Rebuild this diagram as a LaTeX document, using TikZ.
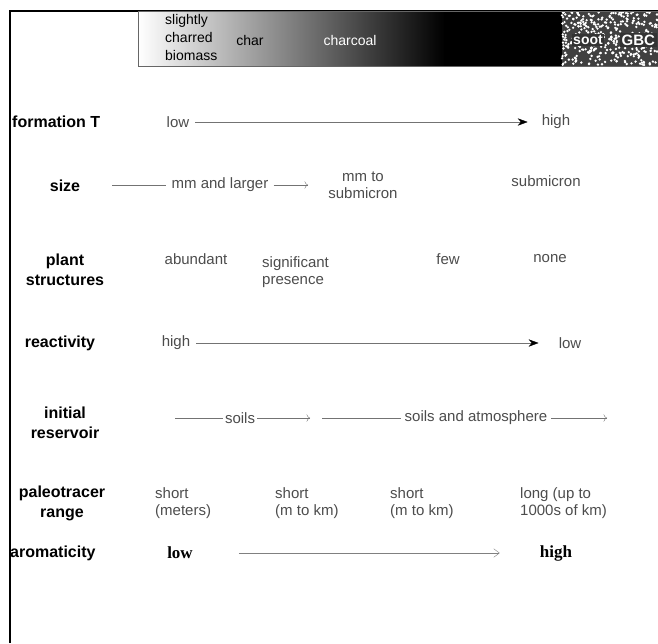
\documentclass[tikz,border=0pt]{standalone}
\usepackage{fontspec}
\setmainfont{Liberation Sans}
\newfontfamily\timesbf{Liberation Serif}
\usetikzlibrary{arrows.meta,positioning}

\begin{document}
\begin{tikzpicture}[
    x=1pt, y=-1pt,
    lbl/.style={font=\fontsize{16}{20}\selectfont\bfseries, align=center, inner sep=0pt},
    val/.style={font=\fontsize{15}{17}\selectfont, text=black!70, align=left, inner sep=0pt},
    bandtxt/.style={font=\fontsize{14}{18}\selectfont, align=left, inner sep=0pt},
    serifval/.style={font=\fontsize{17}{20}\selectfont\timesbf\bfseries, inner sep=0pt},
    arr/.style={draw=black!55, -{Stealth[length=3.5mm, width=2.6mm, black]}},
    tick/.style={draw=black!55, -{To[length=1.2mm]}},
    seg/.style={draw=black!55},
    openarr/.style={draw=black!50, -{Straight Barb[length=2mm, width=3mm]}}
]
\useasboundingbox (0,0) rectangle (658,643);

% frame
\draw[line width=1.2pt] (10,643) -- (10,11) -- (658,11);

% carbon continuum band
\shade[left color=white, middle color=black!50, right color=black] (138,11) rectangle (445,66);
\fill[black] (444,11) rectangle (562,66);
\fill[black!75] (562,11) rectangle (658,66);
\pgfmathsetseed{11}
\foreach \i in {1,...,380} {
    \pgfmathsetmacro\rx{562+96*rnd}
    \pgfmathsetmacro\ry{12+53*rnd}
    \fill[white] (\rx,\ry) circle (1.3pt);
}
\draw[black!60] (138,11) rectangle (658,66);
\node[bandtxt, anchor=north west] (biomass) at (165,14) {slightly\\charred\\biomass};
\node[bandtxt] (char) at (250,40) {char};
\node[bandtxt, text=white] (charcoal) at (350,40) {charcoal};
\node[bandtxt, text=white, fill=black!80, inner sep=1.5pt, font=\fontsize{14}{18}\selectfont\bfseries] (soot) at (588,40) {soot};
\node[bandtxt, text=white, fill=black!80, inner sep=1.5pt, font=\fontsize{15}{18}\selectfont\bfseries, anchor=west] (gbc) at (620,40) {GBC};

% formation T
\node[lbl, anchor=west] (formT) at (12,122) {formation T};
\node[val] (formlow) at (178,122) {low};
\node[val] (formhigh) at (556,122) {high};
\draw[arr, shorten <=6pt, shorten >=14pt] (formlow) -- (formhigh);

% size
\node[lbl] (size) at (65,186) {size};
\node[val] (mmlarge) at (220,185) {mm and larger};
\coordinate (sizeA) at (112,185);
\coordinate (sizeB) at (308,185);
\draw[seg, shorten >=5pt] (sizeA) -- (mmlarge);
\draw[tick, shorten <=5pt] (mmlarge) -- (sizeB);
\node[val, align=center] (mmsub) at (363,185) {mm to\\submicron};
\node[val] (submic) at (546,181) {submicron};

% plant structures
\node[lbl] (plant) at (65,270) {plant\\structures};
\node[val] (abund) at (196,259) {abundant};
\node[val, anchor=west] (signif) at (262,272) {significant\\presence};
\node[val] (few) at (448,259) {few};
\node[val] (none) at (550,259) {none};

% reactivity
\node[lbl] (react) at (60,343) {reactivity};
\node[val] (reacthigh) at (176,343) {high};
\node[val] (reactlow) at (570,343) {low};
\draw[arr, shorten <=6pt, shorten >=20pt] (reacthigh) -- (reactlow);

% initial reservoir
\node[lbl] (reserv) at (65,423) {initial\\reservoir};
\coordinate (resA) at (175,418);
\node[val] (soils) at (240,418) {soils};
\coordinate (resB) at (310,418);
\coordinate (resC) at (322,418);
\node[val] (soilatm) at (476,418) {soils and atmosphere};
\coordinate (resD) at (607,418);
\draw[seg, shorten >=2pt] (resA) -- (soils);
\draw[tick, shorten <=2pt] (soils) -- (resB);
\draw[seg, shorten >=4pt] (resC) -- (soilatm);
\draw[tick, shorten <=4pt] (soilatm) -- (resD);

% paleotracer range
\node[lbl] (paleo) at (62,503) {paleotracer\\range};
\node[val, anchor=west] (rngA) at (155,503) {short\\(meters)};
\node[val, anchor=west] (rngB) at (275,503) {short\\(m to km)};
\node[val, anchor=west] (rngC) at (390,503) {short\\(m to km)};
\node[val, anchor=west] (rngD) at (520,503) {long (up to\\1000s of km)};

% aromaticity
\node[lbl, anchor=west] (arom) at (10,553) {aromaticity};
\node[serifval] (aromlow) at (180,553) {low};
\node[serifval] (aromhigh) at (556,553) {high};
\draw[openarr, shorten <=46pt, shorten >=40pt] (aromlow) -- (aromhigh);
\end{tikzpicture}
\end{document}
